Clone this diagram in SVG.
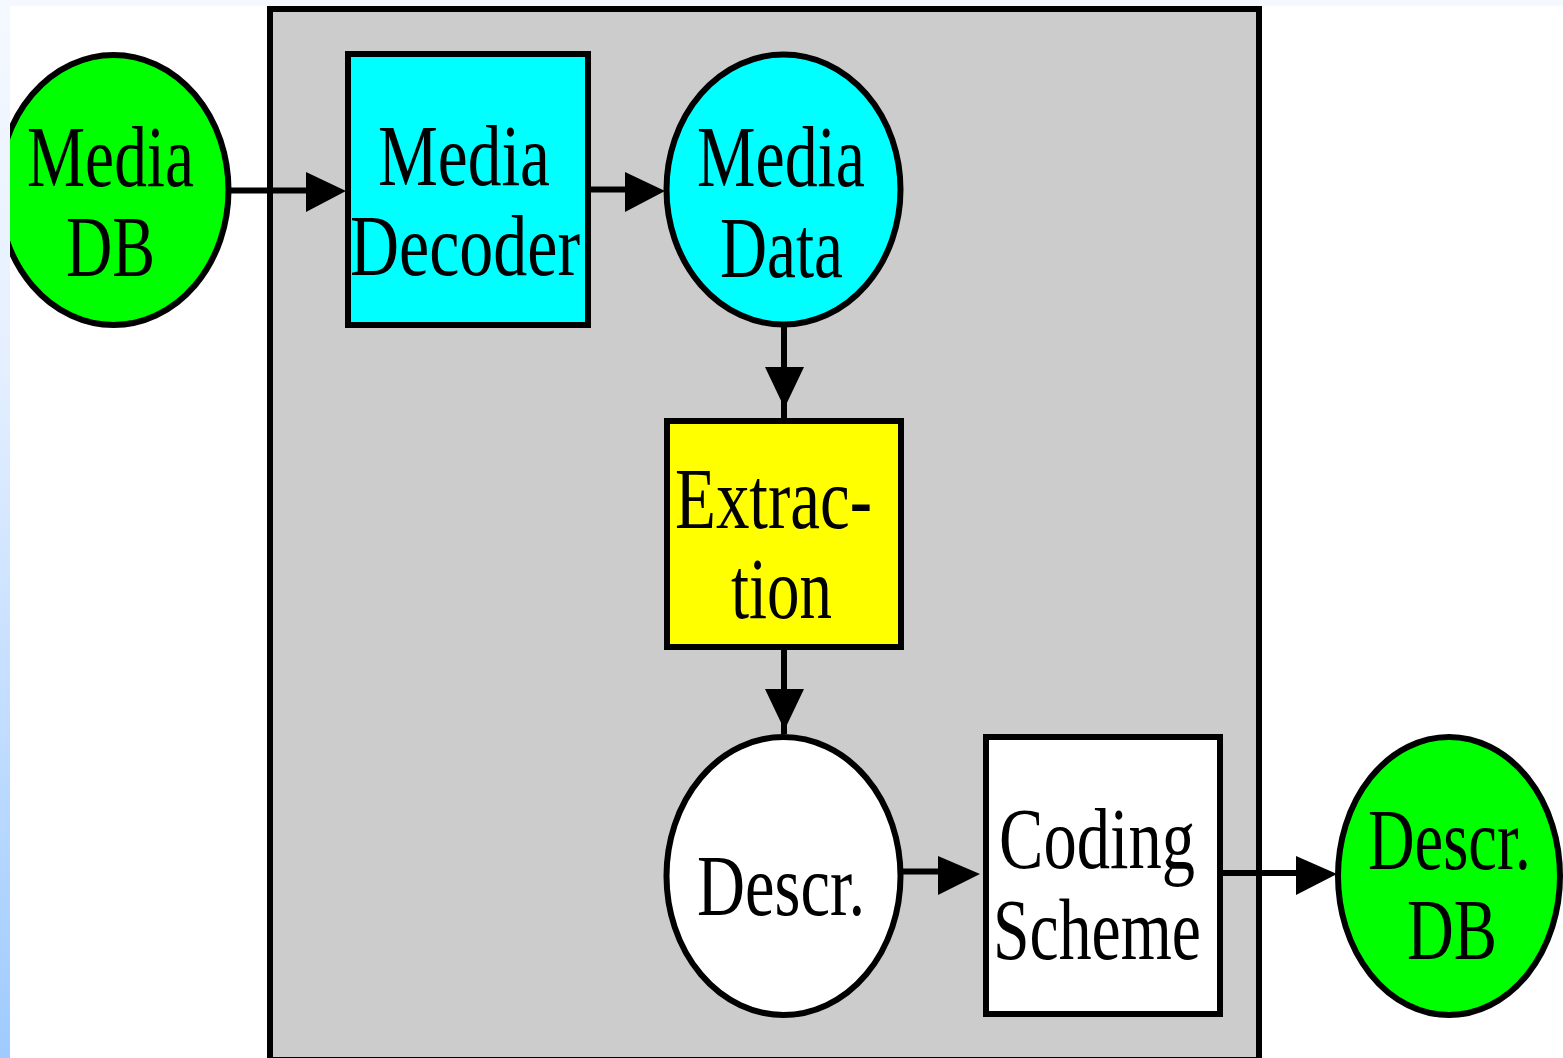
<svg xmlns="http://www.w3.org/2000/svg" width="1563" height="1058" viewBox="0 0 1563 1058">
<style>
.lbl{font-family:"Liberation Serif","Times New Roman",serif;font-size:86px;fill:#000;text-anchor:start}
.node{stroke:#000;stroke-width:6}
.conn{stroke:#000;stroke-width:6;fill:none}
.head{fill:#000;stroke:none}
</style>
<defs>
<linearGradient id="strip" x1="0" y1="0" x2="0" y2="1">
<stop offset="0" stop-color="#f5f9ff"/>
<stop offset="0.35" stop-color="#e4efff"/>
<stop offset="0.66" stop-color="#c4deff"/>
<stop offset="1" stop-color="#9fcbff"/>
</linearGradient>
</defs>
<rect x="0" y="0" width="1563" height="1058" fill="#ffffff"/>
<g id="container">
<rect x="270" y="9" width="989" height="1051" fill="#cccccc" class="node"/>
</g>
<g id="connectors">
<line class="conn" x1="231" y1="190.5" x2="330" y2="190.5"/>
<polygon class="head" points="306,172 346,191 306,212"/>
<line class="conn" x1="591" y1="189.5" x2="650" y2="189.5"/>
<polygon class="head" points="625,172 665,191 625,212"/>
<line class="conn" x1="784" y1="327" x2="784" y2="418"/>
<polygon class="head" points="765,367 784.5,408 804,367"/>
<line class="conn" x1="784" y1="650" x2="784" y2="734"/>
<polygon class="head" points="765,689 784.5,730 804,689"/>
<line class="conn" x1="903" y1="871.5" x2="960" y2="871.5"/>
<polygon class="head" points="938,856 980,874 938,895"/>
<line class="conn" x1="1223" y1="873" x2="1320" y2="873"/>
<polygon class="head" points="1296,856 1337,874 1296,895"/>
</g>
<g id="media-db">
<ellipse cx="113.5" cy="190" rx="115" ry="135" fill="#00ff00" class="node"/>
<text class="lbl" x="27" y="186" textLength="167" lengthAdjust="spacingAndGlyphs">Media</text>
<text class="lbl" x="66" y="276" textLength="89" lengthAdjust="spacingAndGlyphs">DB</text>
</g>
<g id="media-decoder">
<rect x="348" y="54" width="240" height="271" fill="#00ffff" class="node"/>
<text class="lbl" x="378" y="185" textLength="172" lengthAdjust="spacingAndGlyphs">Media</text>
<text class="lbl" x="350" y="275" textLength="230" lengthAdjust="spacingAndGlyphs">Decoder</text>
</g>
<g id="media-data">
<ellipse cx="783.5" cy="189.5" rx="117" ry="135" fill="#00ffff" class="node"/>
<text class="lbl" x="697" y="186" textLength="168" lengthAdjust="spacingAndGlyphs">Media</text>
<text class="lbl" x="720" y="277" textLength="123" lengthAdjust="spacingAndGlyphs">Data</text>
</g>
<g id="extraction">
<rect x="667" y="421" width="234" height="226" fill="#ffff00" class="node"/>
<text class="lbl" x="675" y="528" textLength="197" lengthAdjust="spacingAndGlyphs">Extrac-</text>
<text class="lbl" x="731" y="618" textLength="101" lengthAdjust="spacingAndGlyphs">tion</text>
</g>
<g id="descr">
<ellipse cx="783.5" cy="876" rx="117" ry="139" fill="#ffffff" class="node"/>
<text class="lbl" x="697" y="915" textLength="168" lengthAdjust="spacingAndGlyphs">Descr.</text>
</g>
<g id="coding-scheme">
<rect x="986" y="737" width="234" height="277" fill="#ffffff" class="node"/>
<text class="lbl" x="999" y="868" textLength="196" lengthAdjust="spacingAndGlyphs">Coding</text>
<text class="lbl" x="993" y="959" textLength="208" lengthAdjust="spacingAndGlyphs">Scheme</text>
</g>
<g id="descr-db">
<ellipse cx="1449" cy="876" rx="111" ry="139" fill="#00ff00" class="node"/>
<text class="lbl" transform="translate(1368 869) scale(0.75 1)" x="0" y="0">Descr.</text>
<text class="lbl" x="1407" y="959" textLength="90" lengthAdjust="spacingAndGlyphs">DB</text>
</g>
<rect x="0" y="0" width="1563" height="6" fill="#f5f9ff"/>
<rect x="0" y="0" width="10" height="1058" fill="url(#strip)"/>
</svg>
